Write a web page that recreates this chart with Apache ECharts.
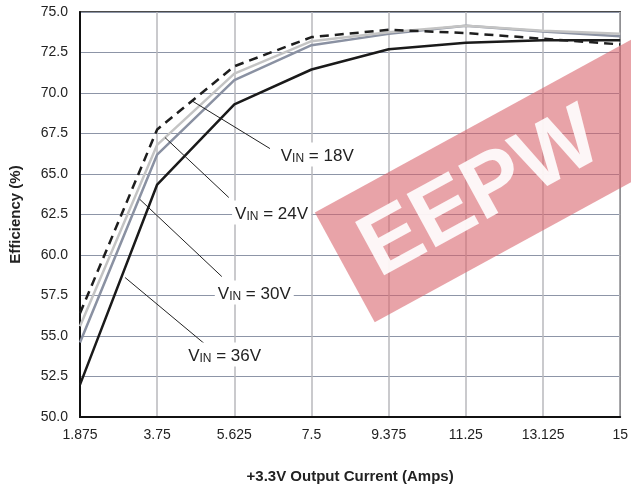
<!DOCTYPE html>
<html>
<head>
<meta charset="utf-8">
<script src="https://cdn.jsdelivr.net/npm/echarts@6/dist/echarts.min.js"></script>
<style>
html,body{margin:0;padding:0;background:#fff;}
#c{width:631px;height:489px;}
</style>
</head>
<body>
<div id="c"></div>
<script>
// ---- data ----
var currents = [1.875, 3.75, 5.625, 7.5, 9.375, 11.25, 13.125, 15];
var xTickLabels = ['1.875', '3.75', '5.625', '7.5', '9.375', '11.25', '13.125', '15'];
var eff18 = [56.4, 67.75, 71.65, 73.45, 73.9, 73.7, 73.35, 73.0];
var eff24 = [55.6, 66.8, 71.2, 73.2, 73.75, 74.15, 73.85, 73.65];
var eff30 = [54.6, 66.2, 70.8, 72.95, 73.65, 74.15, 73.8, 73.5];
var eff36 = [52.0, 64.35, 69.3, 71.45, 72.7, 73.1, 73.25, 73.25];
var seriesNames = ['VIN = 18V', 'VIN = 24V', 'VIN = 30V', 'VIN = 36V'];
var labelVolts = ['18V', '24V', '30V', '36V'];
// leader lines in data coords
var leaderFrom = [[4.62, 69.48], [3.94, 67.25], [3.33, 63.43], [2.97, 58.61]];
var leaderTo = [[6.49, 66.57], [5.49, 63.55], [5.32, 58.67], [5.01, 54.29]];
var labelAt = [[6.68, 66.2], [5.57, 62.62], [5.15, 57.69], [4.43, 53.86]];
var watermarkCorner = [7.58, 62.62];

function pairs(vals) {
  return currents.map(function (x, i) { return [x, vals[i]]; });
}

var FONT = "'Liberation Sans', Arial, Helvetica, sans-serif";
var chart = echarts.init(document.getElementById('c'), null, {renderer: 'canvas'});

var lineStyles = [
  {color: '#1e1e1e', width: 2.5, type: [9, 6]},
  {color: '#c4c4c4', width: 2.5, type: 'solid'},
  {color: '#8a91a2', width: 2.5, type: 'solid'},
  {color: '#1a1a1a', width: 2.5, type: 'solid'}
];
var allData = [eff18, eff24, eff30, eff36];

chart.setOption({
  animation: false,
  backgroundColor: '#fff',
  grid: {left: 80, right: 10, top: 12, bottom: 71.5, show: true, borderColor: '#111', borderWidth: 1.5, backgroundColor: 'transparent'},
  xAxis: {
    type: 'value', min: 1.875, max: 15, interval: 1.875,
    axisLine: {show: true, lineStyle: {color: '#111', width: 2}},
    axisTick: {show: false},
    axisLabel: {
      margin: 11, color: '#222', fontSize: 14, fontFamily: FONT,
      formatter: function (v) {
        var i = currents.indexOf(v);
        return i >= 0 ? xTickLabels[i] : '';
      }
    },
    splitLine: {show: true, lineStyle: {color: '#b9b9bd', width: 1.5}},
    name: '+3.3V Output Current (Amps)', nameLocation: 'middle', nameGap: 52,
    nameTextStyle: {fontSize: 15, fontWeight: 'bold', color: '#222', fontFamily: FONT}
  },
  yAxis: {
    type: 'value', min: 50, max: 75, interval: 2.5,
    axisLine: {show: true, lineStyle: {color: '#111', width: 2}},
    axisTick: {show: false},
    axisLabel: {margin: 12, color: '#222', fontSize: 14, fontFamily: FONT,
      formatter: function (v) { return v.toFixed(1); }},
    splitLine: {show: true, lineStyle: {color: '#8d95a7', width: 1.2}},
    name: 'Efficiency (%)', nameLocation: 'middle', nameGap: 57,
    nameTextStyle: {fontSize: 15, fontWeight: 'bold', color: '#222', fontFamily: FONT}
  },
  series: allData.map(function (vals, i) {
    return {
      name: seriesNames[i], type: 'line', data: pairs(vals), symbol: 'none',
      lineStyle: lineStyles[i], z: 5 - i
    };
  })
});

function px(p) { return chart.convertToPixel({gridIndex: 0}, p); }

var graphics = [];
// watermark band
var corner = px(watermarkCorner);
graphics.push({
  type: 'group', x: corner[0], y: corner[1], rotation: 0.5, z: 1, silent: true,
  children: [
    {type: 'rect', shape: {x: 0, y: 0, width: 560, height: 125},
      style: {fill: 'rgba(215,95,104,0.575)'}},
    {type: 'text', x: 25, y: 64, style: {text: 'EEPW', fill: 'rgba(255,255,255,0.9)',
      font: "bold 88px 'Liberation Sans', Arial, sans-serif", verticalAlign: 'middle', align: 'left'}}
  ]
});
for (var k = 0; k < 4; k++) {
  var a = px(leaderFrom[k]), b = px(leaderTo[k]), l = px(labelAt[k]);
  graphics.push({type: 'line', z: 20, silent: true,
    shape: {x1: a[0], y1: a[1], x2: b[0], y2: b[1]},
    style: {stroke: '#222', lineWidth: 1}});
  graphics.push({type: 'text', z: 21, x: l[0], y: l[1], silent: true,
    style: {
      text: '{v|V}{s|IN}{e| = ' + labelVolts[k] + '}',
      align: 'left', verticalAlign: 'middle',
      backgroundColor: '#fff', padding: [2, 3, 2, 3],
      rich: {
        v: {fontSize: 17, fontFamily: FONT, fill: '#222', verticalAlign: 'bottom', lineHeight: 20},
        s: {fontSize: 12, fontFamily: FONT, fill: '#222', verticalAlign: 'bottom', lineHeight: 17},
        e: {fontSize: 17, fontFamily: FONT, fill: '#222', verticalAlign: 'bottom', lineHeight: 20}
      }
    }});
}
chart.setOption({graphic: graphics});
</script>
</body>
</html>
